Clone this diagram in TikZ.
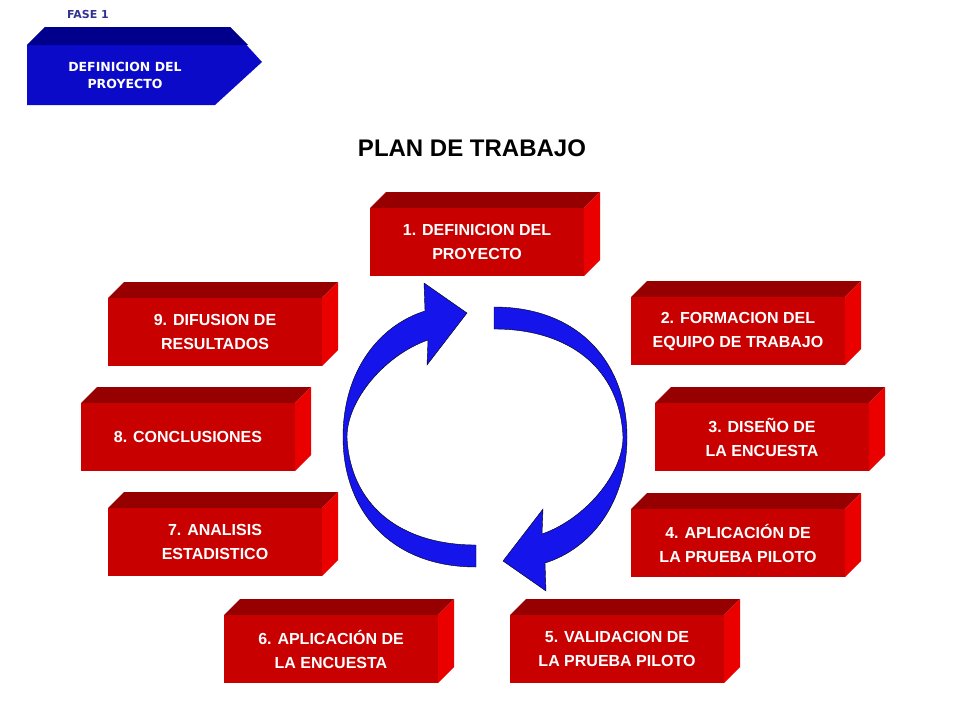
\documentclass[tikz,border=0pt]{standalone}
\usepackage{fontspec}
\setmainfont{Liberation Sans}
\newfontfamily\verdana{DejaVu Sans}
\usetikzlibrary{positioning}
\definecolor{rojo}{RGB}{200,0,0}
\definecolor{rojotop}{RGB}{150,0,0}
\definecolor{rojoside}{RGB}{235,0,0}
\definecolor{azul}{RGB}{10,10,200}
\definecolor{azultop}{RGB}{0,0,140}
\definecolor{flecha}{RGB}{20,20,235}
\definecolor{fase}{RGB}{50,50,150}
\begin{document}
\begin{tikzpicture}[x=1pt,y=-1pt,
    caja/.style={fill=rojo, minimum width=214pt, minimum height=68pt, inner sep=0pt,
      text=white, align=center, font=\fontsize{16}{24}\selectfont\bfseries},
    arco/.style={fill=flecha, draw=black, line width=0.4pt}
]
\useasboundingbox (0,0) rectangle (960,720);
% fase
\node[text=fase, font=\verdana\fontsize{11}{12}\selectfont\bfseries] (fase) at (88,14) {FASE 1};
\fill[azul] (27,45) -- (45,27) -- (230,27) -- (262,62) -- (215,105) -- (27,105) -- cycle;
\fill[azultop] (27,45) -- (45,27) -- (230,27) -- (248,45) -- cycle;
\node[text=white, align=center, font=\verdana\fontsize{12.5}{17}\selectfont\bfseries] (def) at (125,75) {DEFINICION DEL\\PROYECTO};
% title
\node[font=\fontsize{24}{28}\selectfont\bfseries] (titulo) at (472,148) {PLAN DE TRABAJO};
% boxes
\foreach \n/\x/\y/\t in {c1/477/242/{1. DEFINICION DEL\\PROYECTO},
    c2/738/331/{2. FORMACION DEL\\EQUIPO DE TRABAJO},
    c3/762/437/{3. DISEÑO DE\\LA ENCUESTA},
    c4/738/543/{4. APLICACIÓN DE\\LA PRUEBA PILOTO},
    c5/617/649/{5. VALIDACION DE\\LA PRUEBA PILOTO},
    c6/331/649/{6. APLICACIÓN DE\\LA ENCUESTA},
    c7/215/542/{7. ANALISIS\\ESTADISTICO},
    c8/188/437/{8. CONCLUSIONES},
    c9/215/332/{9. DIFUSION DE\\RESULTADOS}}{
  \fill[rojotop] (\x-107,\y-34) -- ++(16,-16) -- ++(214,0) -- ++(-16,16) -- cycle;
  \fill[rojoside] (\x+107,\y-34) -- ++(16,-16) -- ++(0,68) -- ++(-16,16) -- cycle;
  \node[caja] (\n) at (\x,\y) {\t};
}
% cycle arrows
\draw[arco] (476,567) .. controls (390,567) and (343,510) .. (343,437)
  .. controls (343,370) and (380,325) .. (425,311) -- (424,283) -- (467,313)
  -- (427,365) -- (428,340) .. controls (385,355) and (347,400) .. (347,437)
  .. controls (350,505) and (400,545) .. (476,545) -- cycle;
\begin{scope}[rotate around={180:(485,437)}]
\draw[arco] (476,567) .. controls (390,567) and (343,510) .. (343,437)
  .. controls (343,370) and (380,325) .. (425,311) -- (424,283) -- (467,313)
  -- (427,365) -- (428,340) .. controls (385,355) and (347,400) .. (347,437)
  .. controls (350,505) and (400,545) .. (476,545) -- cycle;
\end{scope}
\end{tikzpicture}
\end{document}
